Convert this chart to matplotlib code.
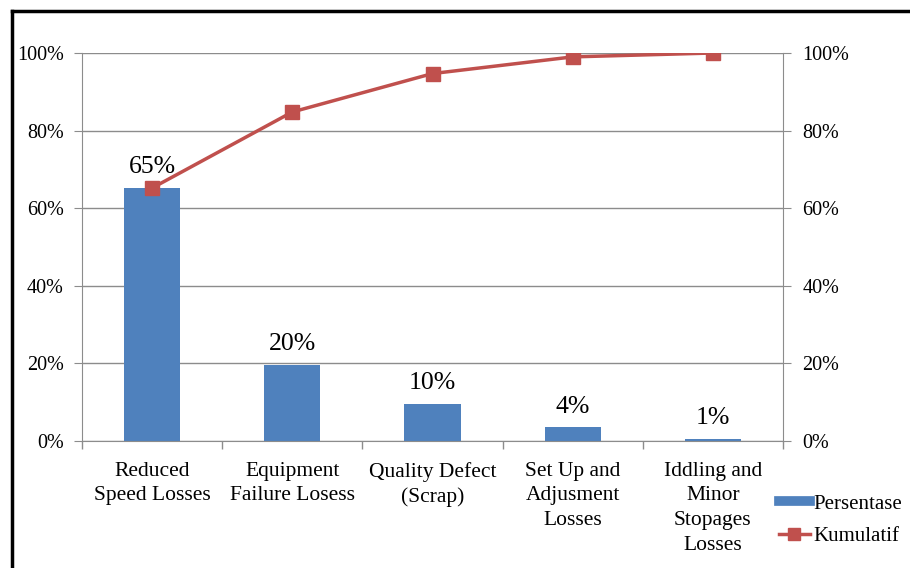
import matplotlib.pyplot as plt
from matplotlib.lines import Line2D
from matplotlib.ticker import PercentFormatter

plt.rcParams['font.family'] = ['Liberation Serif', 'DejaVu Serif']

# ====== Data ======
categories = ["Reduced\nSpeed Losses", "Equipment\nFailure Losess", "Quality Defect\n(Scrap)",
              "Set Up and\nAdjusment\nLosses", "Iddling and\nMinor\nStopages\nLosses"]
persentase = [0.652, 0.196, 0.096, 0.035, 0.006]
kumulatif = [0.652, 0.848, 0.947, 0.990, 1.000]
bar_labels = ["65%", "20%", "10%", "4%", "1%"]
y_ticks = [0, 0.2, 0.4, 0.6, 0.8, 1.0]

BAR_COLOR = "#4F81BD"
LINE_COLOR = "#C0504D"
GRID_COLOR = "#8C8C8C"

fig = plt.figure(figsize=(9.1, 5.68), dpi=100)
ax = fig.add_axes([82 / 910, 1 - 441 / 568, 701 / 910, 388 / 568])
x = list(range(len(categories)))

ax.bar(x, persentase, width=0.4, color=BAR_COLOR, zorder=2)
for xi, v, lab in zip(x, persentase, bar_labels):
    ax.text(xi, v + 0.025, lab, ha='center', va='bottom', fontsize=18.5, color='black')

ax.set_xlim(-0.5, len(categories) - 0.5)
ax.set_ylim(0, 1)
ax.set_yticks(y_ticks)
ax.yaxis.set_major_formatter(PercentFormatter(1.0, decimals=0))
ax.grid(axis='y', color=GRID_COLOR, linewidth=1, zorder=0)

ax.set_xticks(x)
ax.set_xticklabels(categories, fontsize=15.5, linespacing=1.4)
ax.set_xticks([i - 0.5 for i in range(len(categories) + 1)], minor=True)
ax.tick_params(axis='x', which='major', length=0, pad=15)
ax.tick_params(axis='x', which='minor', length=6, color=GRID_COLOR, width=1)
ax.tick_params(axis='y', length=6, color=GRID_COLOR, labelsize=14.5, pad=7)

for s in ['top', 'right']:
    ax.spines[s].set_visible(False)
for s in ['left', 'bottom']:
    ax.spines[s].set_color(GRID_COLOR)

# ====== Cumulative line on secondary axis ======
ax2 = ax.twinx()
ax2.plot(x, kumulatif, color=LINE_COLOR, linewidth=2.5, marker='s', markersize=10, zorder=3)
ax2.set_ylim(0, 1)
ax2.set_yticks(y_ticks)
ax2.yaxis.set_major_formatter(PercentFormatter(1.0, decimals=0))
ax2.tick_params(axis='y', length=6, color=GRID_COLOR, labelsize=14.5, pad=8)
for s in ['top', 'left', 'bottom']:
    ax2.spines[s].set_visible(False)
ax2.spines['right'].set_color(GRID_COLOR)

# ====== Legend ======
handles = [Line2D([], [], color=BAR_COLOR, linewidth=7),
           Line2D([], [], color=LINE_COLOR, linewidth=2.5, marker='s', markersize=8)]
fig.legend(handles, ["Persentase", "Kumulatif"], loc='center left',
           bbox_to_anchor=(760 / 910, 1 - 520 / 568), frameon=False, fontsize=15,
           handlelength=1.5, handletextpad=0.15, labelspacing=0.6)

# ====== Outer border ======
fig.add_artist(Line2D([12 / 910, 1], [1 - 11 / 568, 1 - 11 / 568], color='black', linewidth=2.5))
fig.add_artist(Line2D([12 / 910, 12 / 910], [0, 1 - 11 / 568], color='black', linewidth=2.5))

fig.savefig("out.png", dpi=100, facecolor='white')
